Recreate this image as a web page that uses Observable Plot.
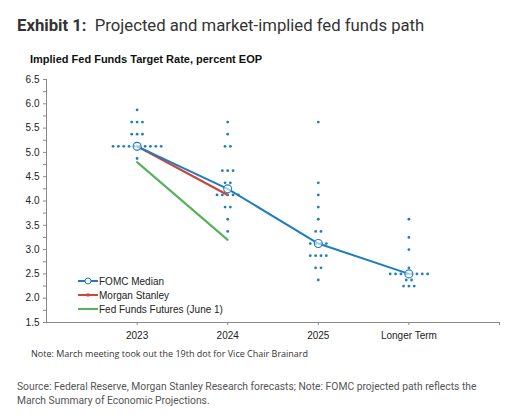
<!DOCTYPE html>
<html>
<head>
<meta charset="utf-8">
<script src="https://cdn.jsdelivr.net/npm/d3@7"></script>
<script src="https://cdn.jsdelivr.net/npm/@observablehq/plot@0.6"></script>
<style>
  body { margin: 0; background: #fff; }
  #page { position: relative; width: 518px; height: 419px; overflow: hidden; }
  .abs { position: absolute; white-space: nowrap; }
  #title { left: 17px; top: 16px; font: 16.7px Roboto, sans-serif; color: #333; }
  #title b { font-weight: 700; }
  #sub { left: 30px; top: 53px; font: bold 11px "Liberation Sans", Arial, sans-serif; color: #111; }
  #note { left: 31px; top: 347px; font: 9px "Open Sans", sans-serif; color: #333; }
  #source { left: 17px; top: 380px; font: 10.3px/13.5px Roboto, sans-serif; color: #555; }
  #chart { left: 0; top: 68px; }
  #legend { left: 78px; top: 274px; font: 10px "Liberation Sans", Arial, sans-serif; color: #222; }
  #legend div { display: flex; align-items: center; height: 14px; }
  #legend svg { margin-right: 1px; }
</style>
</head>
<body>
<div id="page">
  <div id="title" class="abs"><b>Exhibit 1:</b>&nbsp; Projected and market-implied fed funds path</div>
  <div id="sub" class="abs">Implied Fed Funds Target Rate, percent EOP</div>
  <div id="chart" class="abs"></div>
  <div id="legend" class="abs"></div>
  <div id="note" class="abs">Note: March meeting took out the 19th dot for Vice Chair Brainard</div>
  <div id="source" class="abs">Source: Federal Reserve, Morgan Stanley Research forecasts; Note: FOMC projected path reflects the<br>March Summary of Economic Projections.</div>
</div>
<script>
const categories = ["2023", "2024", "2025", "Longer Term"]

// dot plot: [rate, number of participants]
const dots2023 = [[5.875, 1], [5.625, 3], [5.375, 3], [5.125, 10], [4.875, 1]]
const dots2024 = [[5.625, 1], [5.375, 1], [5.125, 2], [4.625, 3], [4.375, 2], [4.125, 5], [3.875, 2], [3.625, 1], [3.375, 1]]
const dots2025 = [[5.625, 1], [4.375, 1], [4.125, 1], [3.875, 1], [3.625, 1], [3.375, 2], [3.125, 4], [2.875, 4], [2.625, 2], [2.375, 1]]
const dotsLonger = [[3.625, 1], [3.25, 1], [3.0, 1], [2.625, 1], [2.5, 8], [2.375, 2], [2.25, 3]]

const fomcMedian = [5.125, 4.25, 3.125, 2.5]
const morganStanley = [5.125, 4.125]
const fedFundsFutures = [4.8, 3.2]

const yTicks = [1.5, 2.0, 2.5, 3.0, 3.5, 4.0, 4.5, 5.0, 5.5, 6.0, 6.5]
const yMinorTicks = [1.75, 2.25, 2.75, 3.25, 3.75, 4.25, 4.75, 5.25, 5.75, 6.25]

const blue = "#1f7dbf", red = "#c8473f", green = "#53b15a", axisColor = "#8a8a8a"

// spread the dots of one level side by side around the category
const step = 0.059
const dotRows = [dots2023, dots2024, dots2025, dotsLonger].flatMap((rows, i) =>
  rows.flatMap(([rate, n]) => d3.range(n).map(k => ({x: i + (k - (n - 1) / 2) * step, y: rate})))
)
const median = fomcMedian.map((y, i) => ({x: i, y}))
const ms = morganStanley.map((y, i) => ({x: i, y}))
const fut = fedFundsFutures.map((y, i) => ({x: i, y}))

const chart = Plot.plot({
  width: 518,
  height: 280,
  marginTop: 11,
  marginBottom: 26,
  marginLeft: 46,
  marginRight: 19,
  style: {fontFamily: "'Liberation Sans', Arial, sans-serif", fontSize: "10px", color: "#222", background: "transparent"},
  x: {domain: [-1, 4], axis: null},
  y: {domain: [1.5, 6.5], axis: null},
  marks: [
    Plot.dot(dotRows, {x: "x", y: "y", r: 1.4, fill: blue}),
    Plot.ruleX([-1], {stroke: axisColor}),
    Plot.ruleY([1.5], {stroke: axisColor}),
    Plot.axisY(yMinorTicks, {tickSize: 3, text: null, label: null, stroke: axisColor}),
    Plot.axisY(yTicks, {tickSize: 3, tickPadding: 4, label: null, tickFormat: d3.format(".1f"), stroke: axisColor}),
    Plot.axisX([0, 1, 2, 3, 4], {tickSize: 3, tickPadding: 6, label: null, tickFormat: i => categories[i] ?? "", stroke: axisColor}),
    Plot.line(fut, {x: "x", y: "y", stroke: green, strokeWidth: 2}),
    Plot.line(ms, {x: "x", y: "y", stroke: red, strokeWidth: 2.2}),
    Plot.line(median, {x: "x", y: "y", stroke: blue, strokeWidth: 2}),
    Plot.dot(median, {x: "x", y: "y", r: 4, stroke: blue, strokeWidth: 1.1, fill: "white", fillOpacity: 0.6})
  ]
})
d3.select("#chart").append(() => chart)

// legend
const legendItems = [
  {label: "FOMC Median", color: blue, marker: "circle"},
  {label: "Morgan Stanley", color: red, marker: "dash"},
  {label: "Fed Funds Futures (June 1)", color: green, marker: null}
]
const rows = d3.select("#legend").selectAll("div").data(legendItems).join("div")
const sw = rows.append("svg").attr("width", 20).attr("height", 10)
sw.append("line").attr("x1", 0).attr("x2", 20).attr("y1", 5).attr("y2", 5)
  .attr("stroke", d => d.color).attr("stroke-width", 2)
sw.filter(d => d.marker === "circle").append("circle").attr("cx", 10).attr("cy", 5).attr("r", 3)
  .attr("fill", "white").attr("stroke", d => d.color).attr("stroke-width", 1)
sw.filter(d => d.marker === "dash").append("rect").attr("x", 8.5).attr("y", 3.5).attr("width", 3).attr("height", 3)
  .attr("fill", d => d.color)
rows.append("span").text(d => d.label)
</script>
</body>
</html>
